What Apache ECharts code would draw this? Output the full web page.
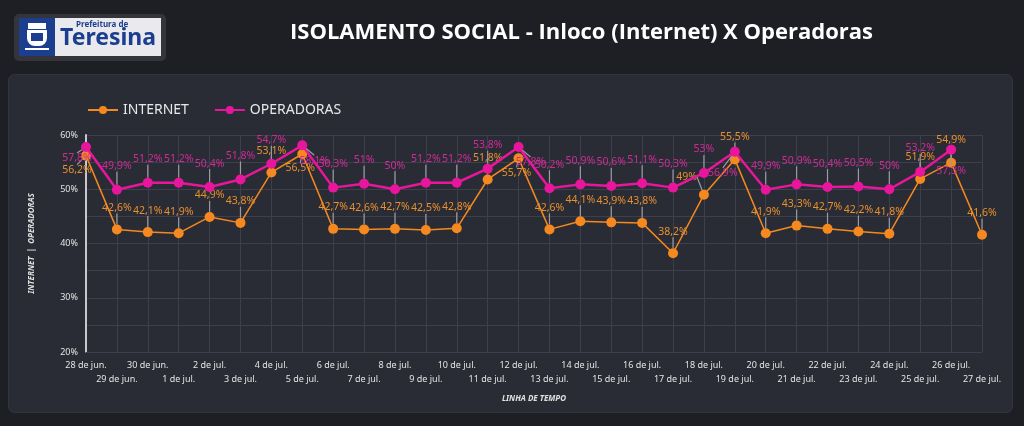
<!DOCTYPE html>
<html>
<head>
<meta charset="utf-8">
<script src="https://cdn.jsdelivr.net/npm/echarts@6/dist/echarts.min.js"></script>
<style>
  html, body { margin: 0; padding: 0; background: #1e1f24; }
  #chart { width: 1024px; height: 426px; }
</style>
</head>
<body>
<div id="chart"></div>
<script>
// datas (28 de jun. ate 27 de jul.)
const days = [
  '28 de jun.', '29 de jun.', '30 de jun.', '1 de jul.', '2 de jul.', '3 de jul.',
  '4 de jul.', '5 de jul.', '6 de jul.', '7 de jul.', '8 de jul.', '9 de jul.',
  '10 de jul.', '11 de jul.', '12 de jul.', '13 de jul.', '14 de jul.', '15 de jul.',
  '16 de jul.', '17 de jul.', '18 de jul.', '19 de jul.', '20 de jul.', '21 de jul.',
  '22 de jul.', '23 de jul.', '24 de jul.', '25 de jul.', '26 de jul.', '27 de jul.'
]
const internet = [
  56.2, 42.6, 42.1, 41.9, 44.9, 43.8, 53.1, 56.5, 42.7, 42.6, 42.7, 42.5,
  42.8, 51.8, 55.7, 42.6, 44.1, 43.9, 43.8, 38.2, 49, 55.5, 41.9, 43.3,
  42.7, 42.2, 41.8, 51.9, 54.9, 41.6
]
const operadoras = [
  57.8, 49.9, 51.2, 51.2, 50.4, 51.8, 54.7, 58.1, 50.3, 51, 50, 51.2,
  51.2, 53.8, 57.8, 50.2, 50.9, 50.6, 51.1, 50.3, 53, 56.9, 49.9, 50.9,
  50.4, 50.5, 50, 53.2, 57.3, null
]
const yTicks = [20, 30, 40, 50, 60]

const ORANGE = '#f5891f'
const PINK = '#e8169c'

const fmt = v => String(v).replace('.', ',') + '%'

// pontos altos: o rotulo rosa vai para baixo do ponto
const pinkLow = i => operadoras[i] != null && operadoras[i] > 56
const orangeUp = i => pinkLow(i) && internet[i] < 55.6 && i > 20
const gap = i => (operadoras[i] == null ? 99 : operadoras[i] - internet[i])

function labelFor (i, isPink) {
  if (isPink) {
    if (pinkLow(i)) return { position: 'bottom', distance: 3 }
    return { position: 'top', distance: 3 }
  }
  if (pinkLow(i)) {
    if (orangeUp(i)) return { position: 'top', distance: 3 }
    return { position: 'bottom', distance: 3 }
  }
  if (gap(i) > 2.5 && gap(i) < 5) return { position: 'left', distance: 2 }
  return { position: 'top', distance: 3 }
}

// deslocamento dos rotulos (com linha guia)
function layoutFor (params) {
  const i = params.dataIndex
  const isPink = params.seriesIndex === 1
  if (isPink) {
    if (pinkLow(i)) {
      if (i === 0) return { dx: -9, dy: -2 }
      if (orangeUp(i)) return { dx: i === 21 ? -12 : 0, dy: 8 }
      return { dx: 12, dy: 2 }
    }
    return { dy: -10 }
  }
  if (pinkLow(i)) {
    if (orangeUp(i)) return { dy: -9 }
    return { dx: i === 0 ? -9 : -2, dy: 1 }
  }
  if (gap(i) > 2.5 && gap(i) < 5) return { dy: -18 }
  return { dy: -8 }
}

const leader = { show: true, lineStyle: { color: '#9a9ca4', width: 1.2 } }

const myChart = echarts.init(document.getElementById('chart'))

myChart.setOption({
  backgroundColor: '#1e1f24',
  textStyle: { fontFamily: 'Noto Sans' },
  graphic: [
    // painel
    {
      type: 'rect', left: 8, top: 74, z: -10,
      shape: { width: 1004, height: 338, r: 6 },
      style: { fill: '#2a2c35', stroke: '#33353e', lineWidth: 1 }
    },
    // logo
    {
      type: 'group', left: 14, top: 14,
      children: [
        { type: 'rect', shape: { x: 0, y: 0, width: 152, height: 47, r: 5 }, style: { fill: '#34353b' } },
        { type: 'rect', shape: { x: 5, y: 4, width: 142, height: 38 }, style: { fill: '#e9e9ee' } },
        { type: 'rect', shape: { x: 5, y: 4, width: 36, height: 38 }, style: { fill: '#1c3e8f' } },
        { type: 'rect', shape: { x: 14, y: 9, width: 18, height: 6 }, style: { fill: '#ffffff' } },
        { type: 'rect', shape: { x: 13, y: 16, width: 20, height: 16, r: [0, 0, 8, 8] }, style: { fill: '#ffffff' } },
        { type: 'rect', shape: { x: 17, y: 19, width: 12, height: 8 }, style: { fill: '#1c3e8f' } },
        { type: 'rect', shape: { x: 11, y: 34, width: 24, height: 2 }, style: { fill: '#ffffff' } },
        { type: 'text', style: { x: 62, y: 7, text: 'Prefeitura de', fill: '#1c3e8f', font: 'bold 8px "Noto Sans"' } },
        { type: 'text', style: { x: 46, y: 13, text: 'Teresina', fill: '#1c3e8f', font: 'bold 23px "Noto Sans"' } }
      ]
    },
    {
      type: 'text', left: 290, top: 22,
      style: {
        text: 'ISOLAMENTO SOCIAL - Inloco (Internet) X Operadoras',
        fill: '#ffffff', font: 'bold 22px "Open Sans"'
      }
    }
  ],
  legend: {
    left: 82, top: 98, itemWidth: 30, itemHeight: 10, itemGap: 25,
    textStyle: { color: '#e8e8e8', fontSize: 14, fontFamily: 'Noto Sans' },
    data: ['INTERNET', 'OPERADORAS']
  },
  grid: { left: 86, right: 42, top: 135, bottom: 74 },
  xAxis: {
    type: 'category',
    data: days,
    boundaryGap: false,
    name: 'LINHA DE TEMPO',
    nameLocation: 'middle',
    nameGap: 43,
    nameTextStyle: { color: '#e0e0e0', fontSize: 8, fontStyle: 'italic', fontWeight: 'bold' },
    axisLine: { show: true, lineStyle: { color: '#3d404b' } },
    axisTick: { show: false },
    axisLabel: {
      interval: 0, color: '#e4e4e4', fontSize: 9, margin: 6, lineHeight: 14,
      formatter: (v, i) => (i % 2 ? '\n' + v : v)
    },
    splitLine: { show: true, lineStyle: { color: '#3d404b' } }
  },
  yAxis: {
    type: 'value',
    min: 20, max: 60, interval: 5,
    name: 'INTERNET  |  OPERADORAS',
    nameLocation: 'middle',
    nameGap: 50,
    nameRotate: 90,
    nameTextStyle: { color: '#e0e0e0', fontSize: 8, fontStyle: 'italic', fontWeight: 'bold' },
    axisLine: { show: true, lineStyle: { color: '#c8c8cc', width: 2 } },
    axisTick: { show: false },
    axisLabel: {
      color: '#e4e4e4', fontSize: 9, margin: 8,
      formatter: v => (yTicks.includes(v) ? v + '%' : '')
    },
    splitLine: { lineStyle: { color: '#3d404b' } }
  },
  series: [
    {
      name: 'INTERNET',
      type: 'line',
      data: internet.map((v, i) => ({ value: v, label: labelFor(i, false) })),
      symbol: 'circle',
      symbolSize: 10,
      itemStyle: { color: ORANGE },
      lineStyle: { color: ORANGE, width: 1.5 },
      label: { show: true, color: '#e7902e', fontSize: 10.5, formatter: p => fmt(p.value) },
      labelLayout: layoutFor,
      labelLine: leader,
      z: 3
    },
    {
      name: 'OPERADORAS',
      type: 'line',
      data: operadoras.map((v, i) => ({ value: v, label: labelFor(i, true) })),
      symbol: 'circle',
      symbolSize: 10,
      itemStyle: { color: PINK },
      lineStyle: { color: PINK, width: 2.5 },
      label: { show: true, color: '#cf2b98', fontSize: 10.5, formatter: p => fmt(p.value) },
      labelLayout: layoutFor,
      labelLine: leader,
      z: 4
    }
  ]
})
</script>
</body>
</html>
